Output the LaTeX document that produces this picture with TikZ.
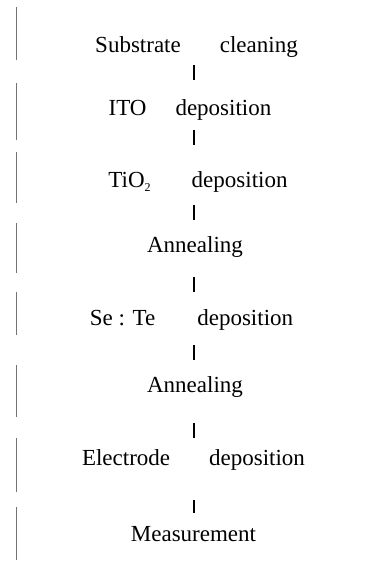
\documentclass[tikz,border=0pt]{standalone}
\usepackage{fontspec}
\setmainfont{Liberation Serif}
\newcommand{\smallsub}[1]{\raisebox{-4pt}{\fontsize{12}{12}\selectfont #1}}
\begin{document}
\begin{tikzpicture}[x=1pt,y=-1pt,
  stepbox/.style={inner sep=0pt, text height=15pt, text depth=5pt, font=\fontsize{23}{25}\selectfont},
  conn/.style={draw=black, line width=1.1pt},
  margin/.style={draw=black!55, line width=0.8pt}]
\useasboundingbox (0,0) rectangle (370,563);
\node[stepbox] (s1) at (196.5,47) {Substrate\hspace{39pt}cleaning};
\node[stepbox] (s2) at (190,110) {ITO\hspace{29pt}deposition};
\node[stepbox] (s3) at (198,182) {TiO\smallsub{2}\hspace{41pt}deposition};
\node[stepbox] (s4) at (195,247) {Annealing};
\node[stepbox] (s5) at (191.5,320) {Se : Te\hspace{42pt}deposition};
\node[stepbox] (s6) at (195,387) {Annealing};
\node[stepbox] (s7) at (193.5,460) {Electrode\hspace{39pt}deposition};
\node[stepbox] (s8) at (193.5,536) {Measurement};
\draw[conn, shorten <=8pt, shorten >=20pt] (s1.south -| 194,0) -- (s2.north -| 194,0);
\draw[conn, shorten <=10pt, shorten >=27pt] (s2.south -| 194,0) -- (s3.north -| 194,0);
\draw[conn, shorten <=13pt, shorten >=17pt] (s3.south -| 194,0) -- (s4.north -| 194,0);
\draw[conn, shorten <=20pt, shorten >=18pt] (s4.south -| 194,0) -- (s5.north -| 194,0);
\draw[conn, shorten <=15pt, shorten >=17pt] (s5.south -| 194,0) -- (s6.north -| 194,0);
\draw[conn, shorten <=26pt, shorten >=12pt] (s6.south -| 194,0) -- (s7.north -| 194,0);
\draw[conn, shorten <=30pt, shorten >=13pt] (s7.south -| 194,0) -- (s8.north -| 194,0);
\foreach \a/\b in {7/60,83/140,152/203,223/273,292/335,365/417,438/492,507/560}
  \draw[margin] (16,\a) -- (16,\b);
\end{tikzpicture}
\end{document}
